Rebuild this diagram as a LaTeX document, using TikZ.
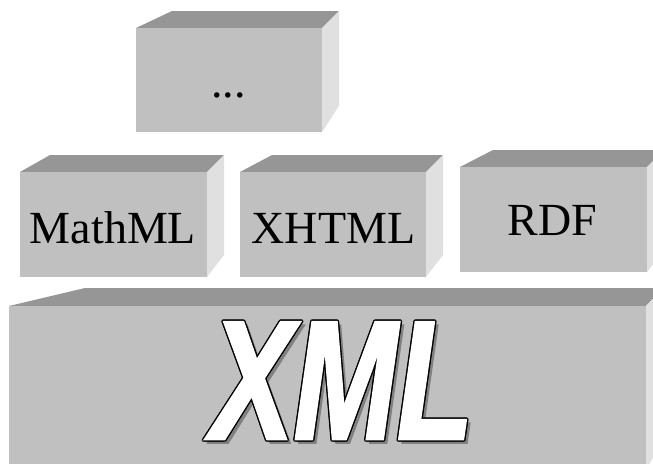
\documentclass[tikz,border=0pt]{standalone}
\usepackage{fontspec}
\setmainfont{Liberation Serif}
\newfontfamily\xmlfont{Liberation Sans}[FakeStretch=0.73,FakeBold=1.5]
\usetikzlibrary{calc}
\definecolor{frontgray}{RGB}{192,192,192}
\definecolor{topgray}{RGB}{150,150,150}
\definecolor{sidegray}{RGB}{224,224,224}
\definecolor{shadowgray}{RGB}{128,128,128}

\begin{document}
\begin{tikzpicture}[x=1pt,y=-1pt,
    frontface/.style={fill=frontgray},
    topface/.style={fill=topgray},
    sideface/.style={fill=sidegray},
    every node/.style={inner sep=0pt},
    boxlabel/.style={anchor=base,font=\fontsize{46}{46}\selectfont},
    xmltext/.style={anchor=base,font=\fontsize{170}{170}\xmlfont\bfseries\itshape}
    ]

    \clip (0,0) rectangle (653,463);

    % the block on top
    \fill[topface] (136,28) -- (172,11) -- (339,11) -- (322,28) -- cycle;
    \fill[sideface] (322,28) -- (339,11) -- (339,106) -- (322,132) -- cycle;
    \fill[frontface] (136,28) rectangle (322,132);

    % the middle row
    \fill[topface] (20,172) -- (50,155) -- (224,155) -- (207,172) -- cycle;
    \fill[sideface] (207,172) -- (224,155) -- (224,255) -- (207,277) -- cycle;
    \fill[frontface] (20,172) rectangle (207,277);

    \fill[topface] (240,172) -- (272,155) -- (443,155) -- (426,172) -- cycle;
    \fill[sideface] (426,172) -- (443,155) -- (443,255) -- (426,277) -- cycle;
    \fill[frontface] (240,172) rectangle (426,277);

    \fill[topface] (460,167) -- (493,150) -- (664,150) -- (647,167) -- cycle;
    \fill[sideface] (647,167) -- (664,150) -- (664,250) -- (647,272) -- cycle;
    \fill[frontface] (460,167) rectangle (647,272);

    % the base
    \fill[topface] (9,306) -- (85,288) -- (663,288) -- (646,306) -- cycle;
    \fill[sideface] (646,306) -- (663,288) -- (663,440) -- (646,470) -- cycle;
    \fill[frontface] (9,306) rectangle (646,470);

    % the labels
    \node[boxlabel] (more) at (228.5,97) {...};
    \node[boxlabel] (mathml) at (113,243) {MathML};
    \node[boxlabel] (xhtml) at (333.5,243) {XHTML};
    \node[boxlabel] (rdf) at (552.5,235) {RDF};

    % XML with shadow and outline
    \coordinate (xmlpos) at (342,439);
    \node[xmltext,text=shadowgray] (xmlshadow) at ($(xmlpos)+(3.5,3.5)$) {XML};
    \foreach \ang in {0,45,...,315}
        \node[xmltext,text=black] (xmlrim\ang) at ($(xmlpos)+(\ang:1.4)$) {XML};
    \node[xmltext,text=white] (xml) at (xmlpos) {XML};

\end{tikzpicture}
\end{document}
